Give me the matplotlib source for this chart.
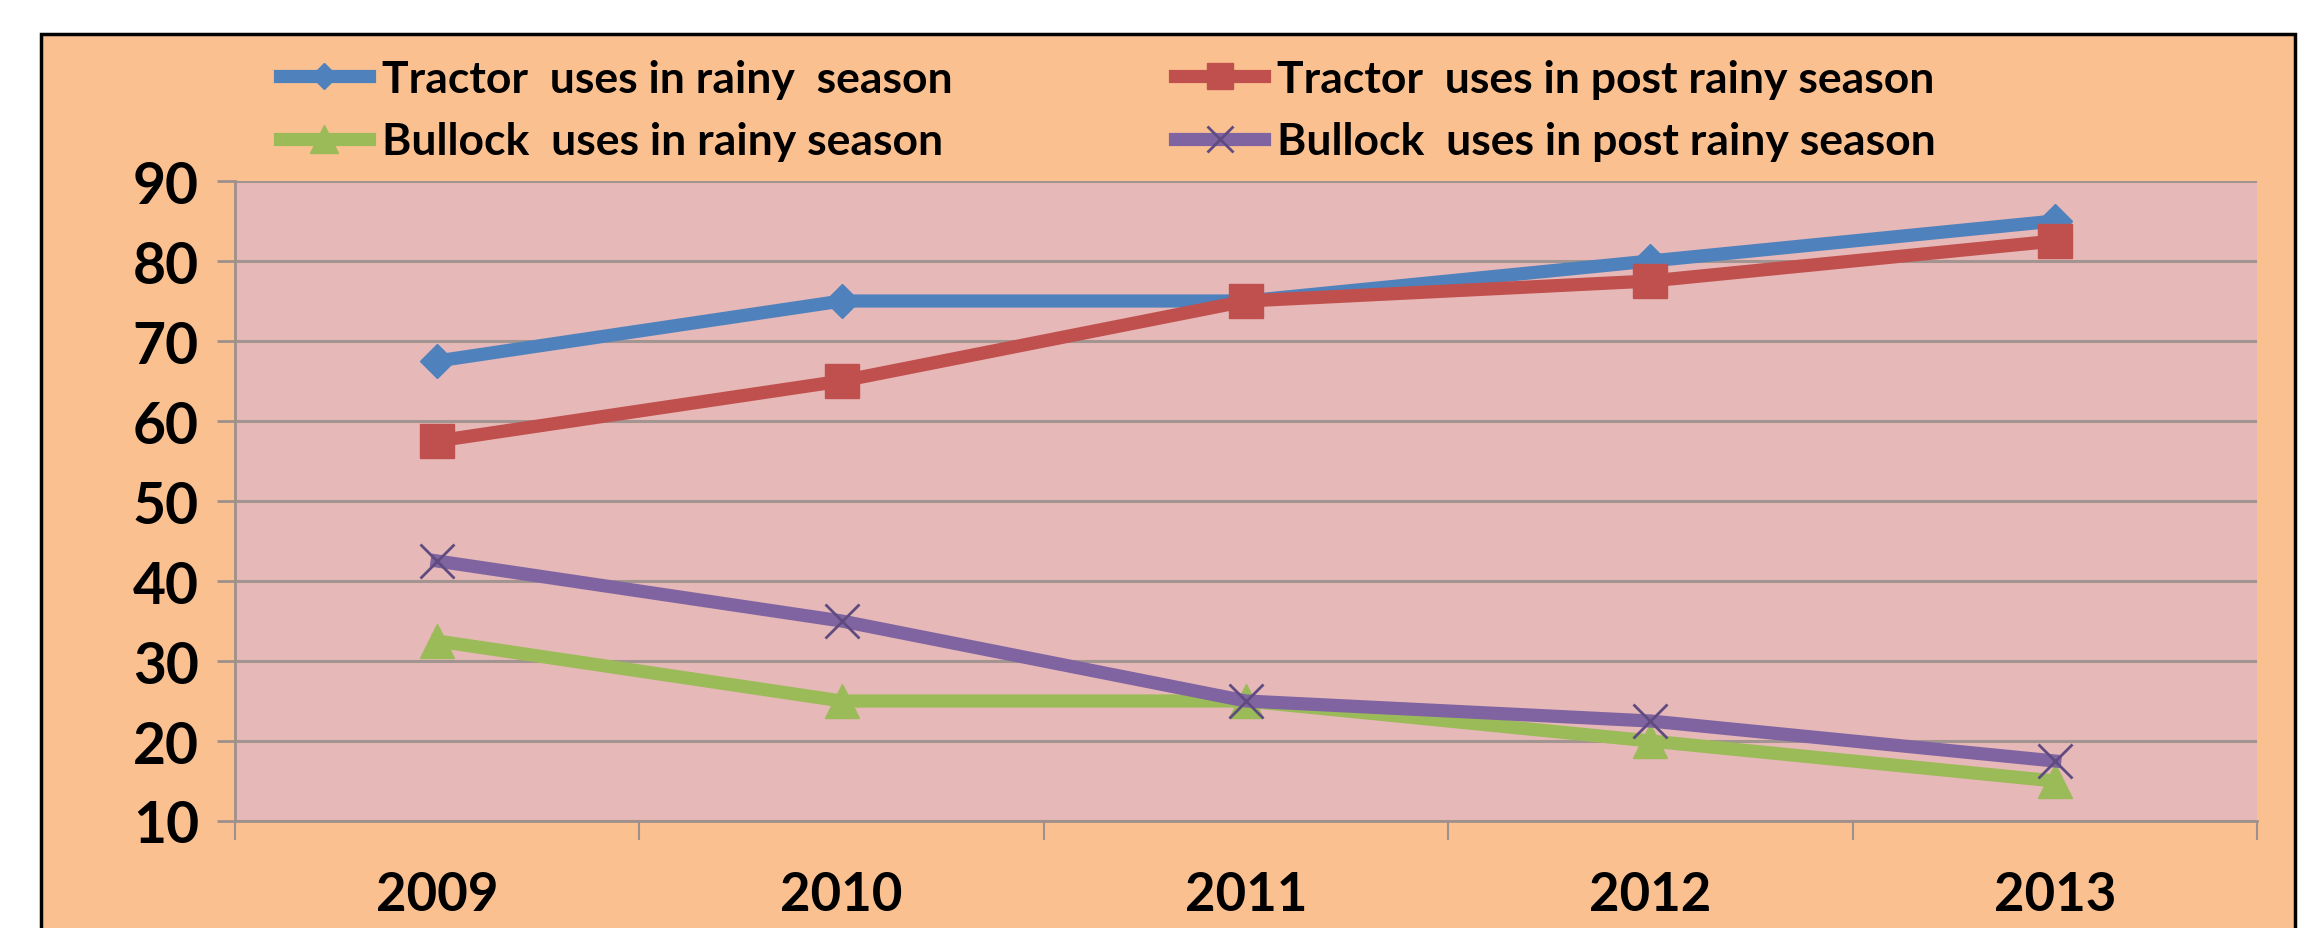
import matplotlib.pyplot as plt
from matplotlib.patches import Rectangle

years = ['2009', '2010', '2011', '2012', '2013']
tractor_rainy = [67.5, 75, 75, 80, 85]
tractor_post = [57.5, 65, 75, 77.5, 82.5]
bullock_rainy = [32.5, 25, 25, 20, 15]
bullock_post = [42.5, 35, 25, 22.5, 17.5]

plt.rcParams['font.family'] = ['Lato', 'DejaVu Sans']
plt.rcParams['font.weight'] = 'bold'

fig = plt.figure(figsize=(23.18, 9.29), dpi=100)
fig.patch.set_facecolor('white')

# peach chart area with black border (runs off the bottom)
frame = Rectangle((41 / 2318, -0.05), (2295 - 41) / 2318, 1.05 - 35 / 929,
                  transform=fig.transFigure, facecolor='#FAC090',
                  edgecolor='black', linewidth=2.5, zorder=-10)
fig.patches.append(frame)

ax = fig.add_axes([235 / 2318, 1 - 822 / 929, (2257 - 235) / 2318, (822 - 182) / 929])
ax.set_facecolor('#E6B8B7')

x = range(len(years))
lw = 9.5
l1, = ax.plot(x, tractor_rainy, color='#4F81BD', lw=lw, marker='D', ms=17,
              label='Tractor  uses in rainy  season')
l2, = ax.plot(x, tractor_post, color='#C0504D', lw=lw, marker='s', ms=24,
              label='Tractor  uses in post rainy season')
l3, = ax.plot(x, bullock_rainy, color='#9BBB59', lw=lw, marker='^', ms=25,
              label='Bullock  uses in rainy season')
l4, = ax.plot(x, bullock_post, color='#8064A2', lw=lw, marker='x', ms=24,
              mec='#5F4B7F', mew=2, label='Bullock  uses in post rainy season')

ax.set_xlim(-0.5, 4.5)
ax.set_ylim(10, 90)
ax.set_yticks(range(10, 100, 10))
ax.set_xticks(list(x))
ax.set_xticklabels(years)
ax.set_xticks([i - 0.5 for i in range(6)], minor=True)
ax.tick_params(axis='x', which='major', length=0, pad=35, labelsize=38)
ax.tick_params(axis='x', which='minor', length=14, width=1.5, color='#9E908C')
ax.tick_params(axis='y', length=13, width=2, color='#9E908C', pad=13, labelsize=41)

ax.grid(axis='y', color='#A29490', lw=2.2)
ax.set_axisbelow(True)
for side in ['top', 'right']:
    ax.spines[side].set_visible(False)
for side in ['left', 'bottom']:
    ax.spines[side].set_color('#9E908C')
    ax.spines[side].set_linewidth(2)

fig.legend(handles=[l1, l3, l2, l4], ncol=2, loc='upper left',
           bbox_to_anchor=(280 / 2318, 1 - 60 / 929), frameon=False,
           fontsize=32, handlelength=2.0, handletextpad=0.3,
           columnspacing=5.0, labelspacing=0.5, markerscale=0.8,
           borderpad=0, borderaxespad=0)

fig.savefig('out.png', dpi=100)
